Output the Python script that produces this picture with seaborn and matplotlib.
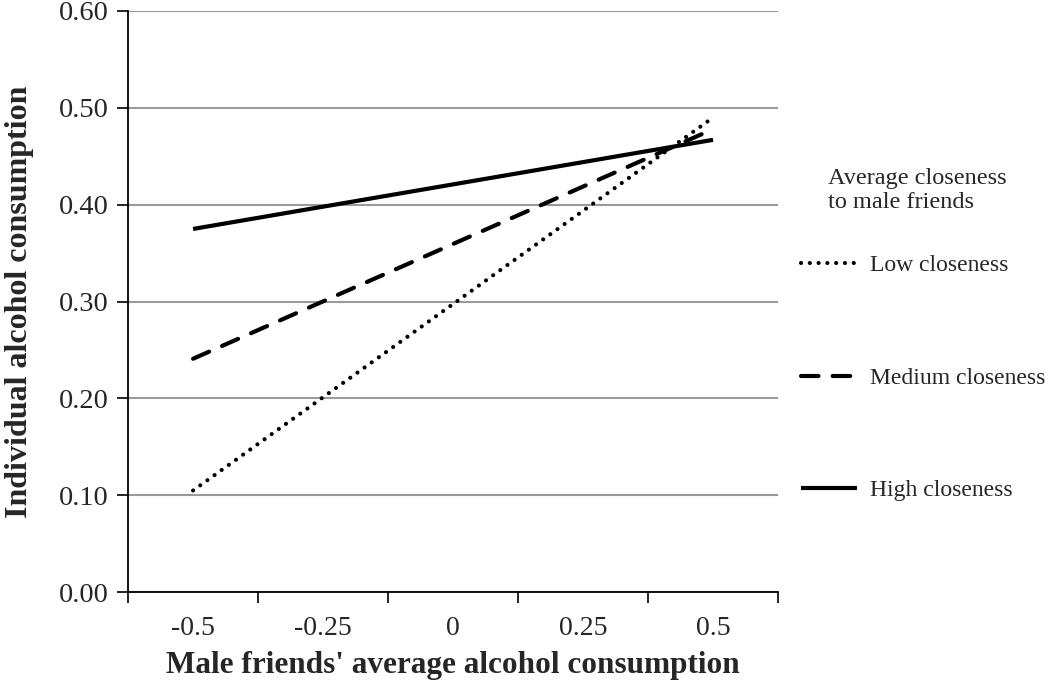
import numpy as np
import pandas as pd
import matplotlib
matplotlib.use("Agg")
import matplotlib.pyplot as plt
import seaborn as sns

# data
x_vals = [-0.5, 0.5]
low = [0.105, 0.490]
medium = [0.241, 0.478]
high = [0.375, 0.467]
groups = ["Low closeness", "Medium closeness", "High closeness"]
x_ticks = [-0.5, -0.25, 0, 0.25, 0.5]
x_ticklabels = ["-0.5", "-0.25", "0", "0.25", "0.5"]
y_ticks = [0.0, 0.1, 0.2, 0.3, 0.4, 0.5, 0.6]

df = pd.DataFrame({
    "x": x_vals * 3,
    "y": low + medium + high,
    "group": [g for g in groups for _ in x_vals],
})

sns.set_style("white")
plt.rcParams["font.family"] = ["Liberation Serif", "DejaVu Serif"]

fig = plt.figure(figsize=(10.5, 6.87), dpi=100)
ax = fig.add_axes([0.122, 0.138, 0.619, 0.846])

sns.lineplot(data=df, x="x", y="y", hue="group", style="group",
             palette={g: "black" for g in groups},
             dashes={"Low closeness": (0.01, 2.1),
                     "Medium closeness": (4.2, 3.4),
                     "High closeness": ""},
             linewidth=3.0, ax=ax, legend=True)
for ln in ax.lines:
    ln.set_dash_capstyle("round")
    ln.set_solid_capstyle("butt")

# x axis as categories centred between tick marks
ax.set_xlim(-0.625, 0.625)
ax.set_xticks(x_ticks)
ax.set_xticklabels(x_ticklabels)
ax.set_xticks(np.arange(-0.625, 0.626, 0.25), minor=True)
ax.tick_params(axis="x", which="major", length=0, pad=17, labelsize=20)
ax.tick_params(axis="x", which="minor", length=8, width=1.2, color="black",
               direction="out", bottom=True)

ax.set_ylim(0, 0.6)
ax.set_yticks(y_ticks)
ax.set_yticklabels([f"{v:.2f}" for v in y_ticks])
ax.tick_params(axis="y", length=8, width=1.2, color="black", direction="out",
               left=True, labelsize=20.5, pad=6)
ax.yaxis.grid(True, color="#9a9a9a", linewidth=1.5)
ax.set_axisbelow(True)

for s in ["top", "right"]:
    ax.spines[s].set_visible(False)
for s in ["left", "bottom"]:
    ax.spines[s].set_color("black")
    ax.spines[s].set_linewidth(1.3)

ax.set_xlabel("Male friends' average alcohol consumption", fontsize=22.5,
              fontweight="bold", labelpad=7)
ax.set_ylabel("Individual alcohol consumption", fontsize=23,
              fontweight="bold", labelpad=18)

leg = ax.legend(loc="upper left", bbox_to_anchor=(0.763, 0.629),
                bbox_transform=fig.transFigure, frameon=False,
                fontsize=17, handlelength=2.35, handletextpad=0.55,
                labelspacing=3.85, borderpad=0, borderaxespad=0)
for h in leg.get_lines():
    h.set_dash_capstyle("round")

fig.text(0.789, 0.723, "Average closeness\nto male friends", fontsize=17.5,
         ha="left", va="center", linespacing=1.2)

fig.savefig("out.png", dpi=100)
